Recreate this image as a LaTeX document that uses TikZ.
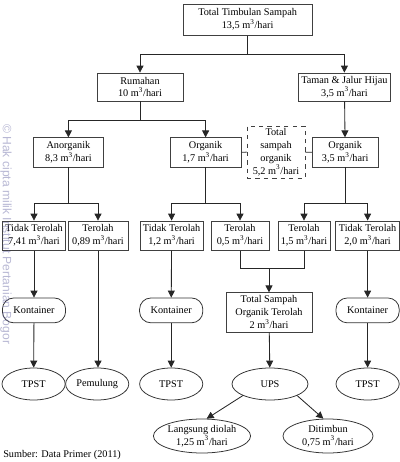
\documentclass[tikz,border=0pt]{standalone}
\usepackage{fontspec}
\setmainfont{Liberation Serif}
\setsansfont{Liberation Sans}
\usetikzlibrary{arrows.meta,shapes.geometric}

\begin{document}
\begin{tikzpicture}[
font=\fontsize{7.3}{9.2}\selectfont,
>={Triangle[length=5pt,width=5pt]},
line/.style={draw=black!85, line width=0.6pt},
box/.style={rectangle, draw=black!75, line width=0.55pt, fill=white, align=center, inner sep=0pt, minimum height=0.73cm},
roundbox/.style={rectangle, rounded corners=0.28cm, draw=black!80, line width=0.55pt, fill=white, inner sep=0pt, minimum height=0.62cm, minimum width=1.58cm},
oval/.style={ellipse, draw=black!80, line width=0.55pt, fill=white, align=center, inner sep=0pt, minimum height=0.8cm, minimum width=1.58cm},
]
    \useasboundingbox (0,0) rectangle (10,-11.55);

    \node[box, minimum width=3.22cm, minimum height=0.78cm] (total) at (6.19,-0.49) {Total Timbulan Sampah\\13,5 m\textsuperscript{3}/hari};

    \node[box, minimum width=2.15cm, minimum height=0.7cm] (rumah) at (3.5,-2.175) {Rumahan\\10 m\textsuperscript{3}/hari};
    \node[box, minimum width=2.32cm, minimum height=0.7cm] (taman) at (8.61,-2.175) {Taman \& Jalur Hijau\\3,5 m\textsuperscript{3}/hari};

    \node[box, minimum width=1.73cm] (anorg) at (1.71,-3.81) {Anorganik\\8,3 m\textsuperscript{3}/hari};
    \node[box, minimum width=1.78cm] (org1) at (5.14,-3.81) {Organik\\1,7 m\textsuperscript{3}/hari};
    \node[box, dashed, minimum width=1.45cm, minimum height=1.3cm] (totorg) at (6.9,-3.8) {Total\\sampah\\organik\\5,2 m\textsuperscript{3}/hari};
    \node[box, minimum width=1.65cm] (org2) at (8.63,-3.81) {Organik\\3,5 m\textsuperscript{3}/hari};

    \node[box, minimum width=1.58cm] (tt1) at (0.85,-5.89) {Tidak Terolah\\7,41 m\textsuperscript{3}/hari};
    \node[box, minimum width=1.5cm] (ter1) at (2.45,-5.89) {Terolah\\0,89 m\textsuperscript{3}/hari};
    \node[box, minimum width=1.58cm] (tt2) at (4.29,-5.89) {Tidak Terolah\\1,2 m\textsuperscript{3}/hari};
    \node[box, minimum width=1.45cm] (ter2) at (6.0,-5.89) {Terolah\\0,5 m\textsuperscript{3}/hari};
    \node[box, minimum width=1.3cm] (ter3) at (7.6,-5.89) {Terolah\\1,5 m\textsuperscript{3}/hari};
    \node[box, minimum width=1.6cm] (tt3) at (9.19,-5.89) {Tidak Terolah\\2,0 m\textsuperscript{3}/hari};

    \node[roundbox] (kont1) at (0.85,-7.76) {Kontainer};
    \node[roundbox] (kont2) at (4.28,-7.76) {Kontainer};
    \node[box, minimum width=2.15cm, minimum height=0.98cm] (terolah) at (6.725,-7.81) {Total Sampah\\Organik Terolah\\2 m\textsuperscript{3}/hari};
    \node[roundbox] (kont3) at (9.19,-7.76) {Kontainer};

    \node[oval] (tpst1) at (0.84,-9.6) {TPST};
    \node[oval] (pemulung) at (2.43,-9.6) {Pemulung};
    \node[oval] (tpst2) at (4.28,-9.6) {TPST};
    \node[oval, minimum width=1.9cm] (ups) at (6.75,-9.6) {UPS};
    \node[oval] (tpst3) at (9.19,-9.6) {TPST};

    \node[oval, minimum width=2.23cm, minimum height=0.85cm] (langsung) at (5.05,-10.9) {Langsung diolah\\1,25 m\textsuperscript{3}/hari};
    \node[oval, minimum width=2.25cm, minimum height=0.85cm] (timbun) at (8.2,-10.9) {Ditimbun\\0,75 m\textsuperscript{3}/hari};

    \node[anchor=south west, inner sep=0pt] (sumber) at (0.075,-11.5) {Sumber: Data Primer (2011)};

    % tree
    \draw[line, ->] (total.south) -- ++(0,-0.48) -| (rumah.north);
    \draw[line, ->] (total.south) -- ++(0,-0.48) -| (taman.north);
    \draw[line, ->] (rumah.south) -- ++(0,-0.48) -| (anorg.north);
    \draw[line, ->] (rumah.south) -- ++(0,-0.48) -| (org1.north);
    \draw[line, ->] (taman) -- (org2);
    \draw[line] (org1) -- (totorg);
    \draw[line] (totorg) -- (org2);

    \draw[line, ->] (anorg.south) -- ++(0,-0.9) -| (tt1.north);
    \draw[line, ->] (anorg.south) -- ++(0,-0.9) -| (ter1.north);
    \draw[line, ->] (org1.south) -- ++(0,-0.9) -| (tt2.north);
    \draw[line, ->] (org1.south) -- ++(0,-0.9) -| (ter2.north);
    \draw[line, ->] (org2.south) -- ++(0,-0.9) -| (ter3.north);
    \draw[line, ->] (org2.south) -- ++(0,-0.9) -| (tt3.north);

    \draw[line] (ter2.south) -- ++(0,-0.45) -| (ter3.south);
    \draw[line, ->] (terolah.north |- 0,-6.7) -- (terolah.north);

    \draw[line, ->] (tt1) -- (kont1);
    \draw[line, ->] (tt2) -- (kont2);
    \draw[line, ->] (tt3) -- (kont3);
    \draw[line, ->] (kont1) -- (tpst1);
    \draw[line, ->] (kont2) -- (tpst2);
    \draw[line, ->] (kont3) -- (tpst3);
    \draw[line, ->] (ter1.south) -- (ter1.south |- pemulung.north);
    \draw[line, ->] (terolah) -- (ups);

    \draw[line, ->] (ups.south west) -- (langsung.75);
    \draw[line, ->] (ups.south east) -- (timbun.105);

    % watermark
    \node[rotate=-90, anchor=west, inner sep=0pt, text=blue!25!gray, opacity=0.45, font=\sffamily\fontsize{8.6}{10}\selectfont] (mark) at (0.15,-3.1) {\textcopyright\ Hak cipta milik Institut Pertanian Bogor};
\end{tikzpicture}
\end{document}
